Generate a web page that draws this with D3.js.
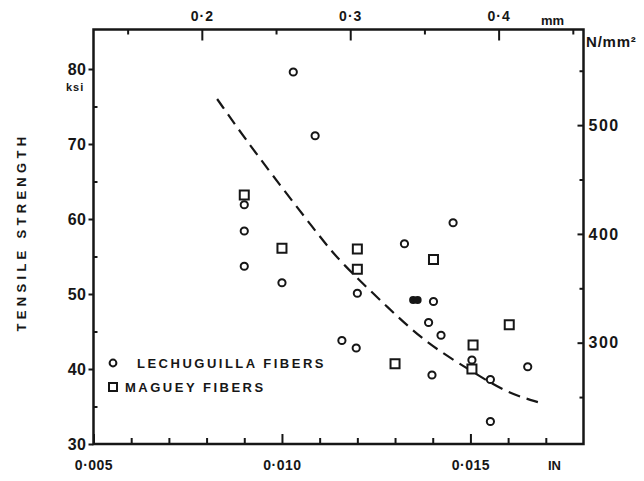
<!DOCTYPE html>
<html>
<head>
<meta charset="utf-8">
<script src="https://cdn.jsdelivr.net/npm/d3@7"></script>
<style>
  body { margin: 0; background: #fff; }
  text { font-family: "Liberation Sans", Arial, sans-serif; font-weight: bold; fill: #161616; }
</style>
</head>
<body>
<script>
// fibre diameter (in) vs tensile strength (ksi)
var lechuguilla = [
    [0.01030, 79.6], [0.01088, 71.1], [0.0090, 61.9], [0.0090, 58.4], [0.0090, 53.7],
    [0.0100, 51.5], [0.0120, 50.1], [0.01454, 59.5], [0.01325, 56.7], [0.01402, 49.0],
    [0.01389, 46.2], [0.01422, 44.5], [0.01159, 43.8], [0.01197, 42.8], [0.01504, 41.2],
    [0.01652, 40.3], [0.01398, 39.2], [0.01553, 38.6], [0.01553, 33.0]
];
// two overlapping points that print as one solid blob
var lechuguillaSolid = [[0.01348, 49.2], [0.01360, 49.2]];
var maguey = [
    [0.0090, 63.2], [0.0100, 56.1], [0.0120, 56.0], [0.0120, 53.3], [0.01402, 54.6],
    [0.01603, 45.9], [0.01507, 43.2], [0.01504, 40.0], [0.0130, 40.7]
];
// dashed trend curve
var trend = [
    [0.00828, 76.0], [0.00923, 69.2], [0.01101, 57.6], [0.01154, 54.3], [0.01287, 47.9],
    [0.01384, 43.4], [0.01507, 39.6], [0.01597, 36.8], [0.01685, 35.5]
];
var inTicks = [0.005, 0.010, 0.015];
var inMinor = [0.006, 0.007, 0.008, 0.009, 0.011, 0.012, 0.013, 0.014, 0.016, 0.017];
var mmTicks = [0.2, 0.3, 0.4];
var mmMinor = [0.15, 0.25, 0.35, 0.45];
var ksiTicks = [30, 40, 50, 60, 70, 80];
var ksiMinor = [35, 45, 55, 65, 75];
var nTicks = [300, 400, 500];
var nMinor = [250, 350, 450, 550];
var legendNames = ["LECHUGUILLA FIBERS", "MAGUEY FIBERS"];

window.onload = function () {
    var w = 644, h = 481;
    var padL = 93.5, padR = 583.5, padT = 29.5, padB = 444;
    var KSI_TO_N = 6.895, IN_TO_MM = 25.4;

    var svg = d3.select("body").append("svg")
        .attr("width", w)
        .attr("height", h);

    var x = d3.scaleLinear().domain([0.005, 0.018]).range([padL, padR]);
    var y = d3.scaleLinear().domain([30, 30 + (padB - padT) / 7.5]).range([padB, padT]);
    var xmm = d3.scaleLinear().domain(x.domain().map(function (d) { return d * IN_TO_MM; })).range([padL, padR]);
    var yN = d3.scaleLinear().domain(y.domain().map(function (d) { return d * KSI_TO_N; })).range([padB, padT]);

    var fmt = function (d) { return d3.format(".3f")(d).replace(".", "·"); };
    var fmtMm = function (d) { return d3.format(".1f")(d).replace(".", "·"); };

    function styleAxis(g) {
        g.select(".domain").remove();
        g.selectAll("line").attr("stroke", "#161616").attr("stroke-width", 2);
        g.selectAll("text").attr("font-size", 14);
    }

    // bottom axis
    svg.append("g").attr("transform", "translate(0," + padB + ")")
        .call(d3.axisBottom(x).tickValues(inMinor).tickSize(-6).tickFormat(""))
        .call(styleAxis);
    svg.append("g").attr("transform", "translate(0," + padB + ")")
        .call(d3.axisBottom(x).tickValues(inTicks).tickSize(-10).tickPadding(16).tickFormat(fmt))
        .call(styleAxis)
        .call(function (g) { g.selectAll("text").attr("letter-spacing", 0.5); });

    // top axis (mm)
    svg.append("g").attr("transform", "translate(0," + padT + ")")
        .call(d3.axisTop(xmm).tickValues(mmMinor).tickSize(-5).tickFormat(""))
        .call(styleAxis);
    svg.append("g").attr("transform", "translate(0," + padT + ")")
        .call(d3.axisTop(xmm).tickValues(mmTicks).tickSize(-11).tickPadding(9).tickFormat(fmtMm))
        .call(styleAxis)
        .call(function (g) { g.selectAll("text").attr("letter-spacing", 1); });

    // left axis (ksi)
    svg.append("g").attr("transform", "translate(" + padL + ",0)")
        .call(d3.axisLeft(y).tickValues(ksiMinor).tickSize(-4).tickFormat(""))
        .call(styleAxis);
    svg.append("g").attr("transform", "translate(" + padL + ",0)")
        .call(d3.axisLeft(y).tickValues(ksiTicks).tickSize(5).tickPadding(2).tickFormat(d3.format("d")))
        .call(styleAxis)
        .call(function (g) { g.selectAll("text").attr("font-size", 16).attr("letter-spacing", 0.5); });

    // right axis (N/mm2)
    svg.append("g").attr("transform", "translate(" + padR + ",0)")
        .call(d3.axisRight(yN).tickValues(nMinor).tickSize(-4).tickFormat(""))
        .call(styleAxis);
    svg.append("g").attr("transform", "translate(" + padR + ",0)")
        .call(d3.axisRight(yN).tickValues(nTicks).tickSize(-6).tickPadding(5).tickFormat(d3.format("d")))
        .call(styleAxis)
        .call(function (g) { g.selectAll("text").attr("font-size", 16).attr("letter-spacing", 1.5); });

    // frame
    svg.append("rect")
        .attr("x", padL).attr("y", padT)
        .attr("width", padR - padL).attr("height", padB - padT)
        .attr("fill", "none").attr("stroke", "#161616").attr("stroke-width", 2.5);

    // unit labels
    svg.append("text").attr("x", 66).attr("y", y(80) + 22).attr("font-size", 11).attr("letter-spacing", 1).text("ksi");
    svg.append("text").attr("x", 541).attr("y", 25).attr("font-size", 13).text("mm");
    svg.append("text").attr("x", 586).attr("y", 47).attr("font-size", 15).attr("letter-spacing", 0.8).text("N/mm²");
    svg.append("text").attr("x", 548).attr("y", 470).attr("font-size", 13).text("IN");

    svg.append("text")
        .attr("transform", "translate(26,232) rotate(-90)")
        .attr("text-anchor", "middle")
        .attr("font-size", 13)
        .attr("letter-spacing", 4.3)
        .text("TENSILE STRENGTH");

    // trend curve
    var line = d3.line()
        .x(function (d) { return x(d[0]); })
        .y(function (d) { return y(d[1]); })
        .curve(d3.curveBasis);
    svg.append("path")
        .datum(trend)
        .attr("d", line)
        .attr("fill", "none")
        .attr("stroke", "#161616")
        .attr("stroke-width", 2.2)
        .attr("stroke-dasharray", "12,7");

    // points
    svg.selectAll(".lech")
        .data(lechuguilla)
        .enter()
        .append("circle")
        .attr("class", "lech")
        .attr("cx", function (d) { return x(d[0]); })
        .attr("cy", function (d) { return y(d[1]); })
        .attr("r", 3.6)
        .attr("fill", "#fff")
        .attr("stroke", "#161616")
        .attr("stroke-width", 2);

    svg.selectAll(".lechSolid")
        .data(lechuguillaSolid)
        .enter()
        .append("circle")
        .attr("class", "lechSolid")
        .attr("cx", function (d) { return x(d[0]); })
        .attr("cy", function (d) { return y(d[1]); })
        .attr("r", 4)
        .attr("fill", "#161616");

    svg.selectAll(".mag")
        .data(maguey)
        .enter()
        .append("rect")
        .attr("class", "mag")
        .attr("x", function (d) { return x(d[0]) - 4.5; })
        .attr("y", function (d) { return y(d[1]) - 4.5; })
        .attr("width", 9)
        .attr("height", 9)
        .attr("fill", "#fff")
        .attr("stroke", "#161616")
        .attr("stroke-width", 2);

    // legend
    var legend = svg.append("g");
    legend.append("circle").attr("cx", 113).attr("cy", 363).attr("r", 3.4)
        .attr("fill", "#fff").attr("stroke", "#161616").attr("stroke-width", 2);
    legend.append("text").attr("x", 137).attr("y", 368).attr("font-size", 13).attr("letter-spacing", 2.5)
        .text(legendNames[0]);
    legend.append("rect").attr("x", 109).attr("y", 383).attr("width", 8).attr("height", 8)
        .attr("fill", "#fff").attr("stroke", "#161616").attr("stroke-width", 2);
    legend.append("text").attr("x", 125).attr("y", 392).attr("font-size", 13).attr("letter-spacing", 2.5)
        .text(legendNames[1]);
};
</script>
</body>
</html>
